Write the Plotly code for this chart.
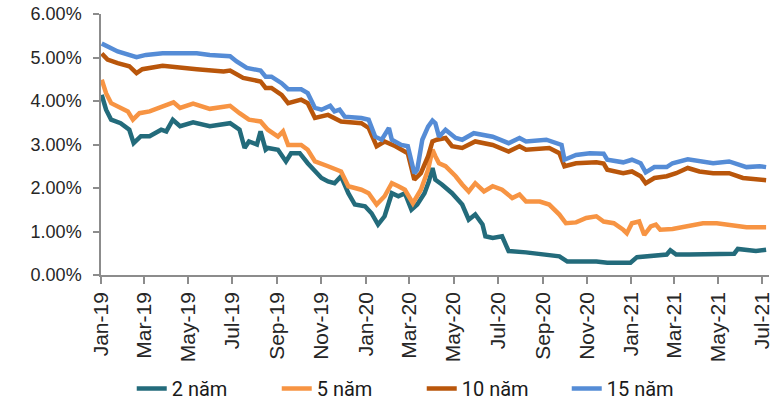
import plotly.graph_objects as go

# Government bond yields (%), by tenor
dates_2y = ["2019-01-02", "2019-01-08", "2019-01-15", "2019-01-28", "2019-02-09", "2019-02-15",
            "2019-02-25", "2019-03-09", "2019-03-25", "2019-04-01", "2019-04-10", "2019-04-20",
            "2019-05-08", "2019-05-31", "2019-06-28", "2019-07-11", "2019-07-18", "2019-07-24",
            "2019-08-04", "2019-08-09", "2019-08-16", "2019-08-19", "2019-09-02", "2019-09-13",
            "2019-09-20", "2019-10-02", "2019-10-13", "2019-11-01", "2019-11-10", "2019-11-19",
            "2019-11-28", "2019-12-08", "2019-12-17", "2019-12-31", "2020-01-09", "2020-01-18",
            "2020-01-27", "2020-02-06", "2020-02-15", "2020-02-24", "2020-03-04", "2020-03-12",
            "2020-03-22", "2020-03-28", "2020-04-02", "2020-04-06", "2020-04-15", "2020-04-29",
            "2020-05-13", "2020-05-22", "2020-05-31", "2020-06-10", "2020-06-14", "2020-06-24",
            "2020-07-07", "2020-07-16", "2020-08-09", "2020-09-01", "2020-09-24", "2020-10-05",
            "2020-10-26", "2020-11-14", "2020-11-29", "2020-12-31", "2021-01-09", "2021-02-06",
            "2021-02-19", "2021-02-24", "2021-03-04", "2021-03-22", "2021-04-29", "2021-05-23",
            "2021-05-28", "2021-06-13", "2021-06-22", "2021-07-06"]
yield_2y = [4.14, 3.80, 3.57, 3.49, 3.34, 3.03,
            3.19, 3.19, 3.34, 3.30, 3.57, 3.42,
            3.51, 3.42, 3.49, 3.34, 2.92, 3.07,
            3.00, 3.30, 2.88, 2.92, 2.88, 2.61,
            2.80, 2.80, 2.57, 2.23, 2.15, 2.11,
            2.27, 1.88, 1.62, 1.58, 1.42, 1.16,
            1.35, 1.88, 1.81, 1.88, 1.50, 1.62,
            1.88, 2.15, 2.46, 2.19, 2.08, 1.88,
            1.62, 1.27, 1.39, 1.16, 0.89, 0.85,
            0.89, 0.55, 0.52, 0.47, 0.43, 0.31,
            0.31, 0.31, 0.28, 0.28, 0.41, 0.44,
            0.47, 0.57, 0.47, 0.47, 0.49, 0.49,
            0.60, 0.57, 0.55, 0.58]

dates_5y = ["2019-01-02", "2019-01-08", "2019-01-15", "2019-01-28", "2019-02-07", "2019-02-14",
            "2019-02-23", "2019-03-09", "2019-03-27", "2019-04-11", "2019-04-20", "2019-05-08",
            "2019-05-31", "2019-06-28", "2019-07-11", "2019-07-24", "2019-08-09", "2019-08-16",
            "2019-08-19", "2019-09-02", "2019-09-09", "2019-09-16", "2019-10-04", "2019-10-13",
            "2019-10-23", "2019-11-10", "2019-11-28", "2019-12-08", "2019-12-26", "2020-01-05",
            "2020-01-16", "2020-01-27", "2020-02-06", "2020-02-15", "2020-02-24", "2020-03-06",
            "2020-03-17", "2020-03-27", "2020-04-02", "2020-04-06", "2020-04-11", "2020-04-20",
            "2020-05-04", "2020-05-13", "2020-05-22", "2020-05-31", "2020-06-12", "2020-06-24",
            "2020-07-07", "2020-07-21", "2020-07-31", "2020-08-09", "2020-08-28", "2020-09-10",
            "2020-09-24", "2020-10-03", "2020-10-17", "2020-10-31", "2020-11-14", "2020-11-24",
            "2020-12-08", "2020-12-21", "2020-12-26", "2021-01-02", "2021-01-12", "2021-01-19",
            "2021-01-28", "2021-02-04", "2021-02-10", "2021-02-27", "2021-03-22", "2021-04-10",
            "2021-04-29", "2021-05-16", "2021-06-09", "2021-07-06"]
yield_5y = [4.49, 4.18, 3.95, 3.84, 3.76, 3.57,
            3.72, 3.76, 3.88, 3.97, 3.84, 3.94,
            3.82, 3.89, 3.72, 3.57, 3.53, 3.38,
            3.34, 3.18, 3.30, 2.99, 2.99, 2.88,
            2.61, 2.50, 2.38, 2.04, 1.96, 1.88,
            1.62, 1.81, 2.11, 2.04, 1.96, 1.65,
            1.96, 2.42, 2.88, 2.73, 2.57, 2.50,
            2.27, 2.08, 1.92, 2.11, 1.92, 2.04,
            1.96, 1.77, 1.85, 1.69, 1.69, 1.62,
            1.39, 1.19, 1.21, 1.31, 1.35, 1.23,
            1.19, 1.04, 0.96, 1.19, 1.23, 0.92,
            1.12, 1.16, 1.04, 1.06, 1.14, 1.19,
            1.19, 1.16, 1.10, 1.10]

dates_10y = ["2019-01-02", "2019-01-10", "2019-01-24", "2019-02-09", "2019-02-19", "2019-02-27",
             "2019-03-27", "2019-04-20", "2019-05-13", "2019-06-19", "2019-06-28", "2019-07-16",
             "2019-08-09", "2019-08-16", "2019-08-24", "2019-09-07", "2019-09-16", "2019-10-04",
             "2019-10-13", "2019-10-23", "2019-11-10", "2019-11-28", "2019-12-26", "2020-01-05",
             "2020-01-16", "2020-01-27", "2020-02-11", "2020-02-28", "2020-03-08", "2020-03-17",
             "2020-03-27", "2020-04-02", "2020-04-08", "2020-04-20", "2020-04-29", "2020-05-13",
             "2020-05-31", "2020-06-24", "2020-07-16", "2020-07-31", "2020-08-09", "2020-09-10",
             "2020-09-24", "2020-10-01", "2020-10-17", "2020-11-14", "2020-11-24", "2020-11-29",
             "2020-12-21", "2021-01-02", "2021-01-14", "2021-01-21", "2021-02-02", "2021-02-19",
             "2021-03-04", "2021-03-20", "2021-04-05", "2021-04-24", "2021-05-16", "2021-06-04",
             "2021-06-22", "2021-07-06"]
yield_10y = [5.09, 4.95, 4.87, 4.80, 4.64, 4.73,
             4.81, 4.76, 4.73, 4.68, 4.70, 4.53,
             4.45, 4.30, 4.30, 4.14, 3.95, 4.03,
             3.95, 3.61, 3.68, 3.53, 3.49, 3.38,
             2.96, 3.07, 2.96, 2.80, 2.19, 2.34,
             2.73, 3.07, 3.11, 3.15, 2.96, 2.92,
             3.07, 2.99, 2.84, 2.96, 2.88, 2.92,
             2.80, 2.50, 2.57, 2.59, 2.56, 2.42,
             2.34, 2.38, 2.27, 2.11, 2.23, 2.27,
             2.34, 2.46, 2.38, 2.34, 2.34, 2.23,
             2.21, 2.18]

dates_15y = ["2019-01-02", "2019-01-10", "2019-01-24", "2019-02-19", "2019-03-04", "2019-03-27",
             "2019-04-20", "2019-05-13", "2019-05-31", "2019-06-28", "2019-07-07", "2019-07-21",
             "2019-08-09", "2019-08-16", "2019-08-24", "2019-09-07", "2019-09-16", "2019-10-04",
             "2019-10-13", "2019-10-23", "2019-11-01", "2019-11-13", "2019-11-19", "2019-11-26",
             "2019-12-03", "2019-12-26", "2020-01-05", "2020-01-14", "2020-01-23", "2020-02-02",
             "2020-02-06", "2020-02-19", "2020-02-28", "2020-03-08", "2020-03-12", "2020-03-19",
             "2020-03-27", "2020-04-02", "2020-04-06", "2020-04-11", "2020-04-20", "2020-05-04",
             "2020-05-13", "2020-05-29", "2020-06-24", "2020-07-16", "2020-07-31", "2020-08-09",
             "2020-09-06", "2020-09-27", "2020-10-01", "2020-10-17", "2020-11-05", "2020-11-24",
             "2020-11-29", "2020-12-21", "2021-01-02", "2021-01-14", "2021-01-21", "2021-02-02",
             "2021-02-19", "2021-02-27", "2021-03-20", "2021-04-05", "2021-04-24", "2021-05-16",
             "2021-06-09", "2021-06-27", "2021-07-06"]
yield_15y = [5.32, 5.26, 5.14, 5.01, 5.06, 5.10,
             5.10, 5.10, 5.06, 5.03, 4.91, 4.76,
             4.70, 4.56, 4.56, 4.41, 4.27, 4.27,
             4.18, 3.84, 3.80, 3.89, 3.76, 3.80,
             3.64, 3.61, 3.57, 3.18, 3.11, 3.38,
             3.11, 2.99, 2.96, 2.34, 2.42, 3.11,
             3.41, 3.55, 3.49, 3.18, 3.34, 3.15,
             3.11, 3.26, 3.18, 3.03, 3.15, 3.07,
             3.11, 2.99, 2.65, 2.76, 2.80, 2.79,
             2.65, 2.59, 2.65, 2.57, 2.36, 2.48,
             2.48, 2.57, 2.66, 2.61, 2.57, 2.61,
             2.48, 2.50, 2.48]

series_names = ["2 năm", "5 năm", "10 năm", "15 năm"]
series_colors = ["#236B7B", "#F79443", "#B9560B", "#558CD6"]

tick_dates = ["2019-01-01", "2019-03-01", "2019-05-01", "2019-07-01", "2019-09-01", "2019-11-01",
              "2020-01-01", "2020-03-01", "2020-05-01", "2020-07-01", "2020-09-01", "2020-11-01",
              "2021-01-01", "2021-03-01", "2021-05-01", "2021-07-01"]
tick_labels = ["Jan-19", "Mar-19", "May-19", "Jul-19", "Sep-19", "Nov-19",
               "Jan-20", "Mar-20", "May-20", "Jul-20", "Sep-20", "Nov-20",
               "Jan-21", "Mar-21", "May-21", "Jul-21"]
y_ticks = [0, 1, 2, 3, 4, 5, 6]
y_tick_labels = ["0.00%", "1.00%", "2.00%", "3.00%", "4.00%", "5.00%", "6.00%"]

series_x = [dates_2y, dates_5y, dates_10y, dates_15y]
series_y = [yield_2y, yield_5y, yield_10y, yield_15y]

fig = go.Figure()
for name, color, xs, ys in zip(series_names, series_colors, series_x, series_y):
    fig.add_trace(go.Scatter(
        x=xs, y=ys, name=name, mode="lines",
        line=dict(color=color, width=4.5, shape="linear"),
    ))

axis_color = "#8C8C8C"
label_family = "Liberation Sans, Arial, sans-serif"

fig.update_xaxes(
    type="date",
    range=["2019-01-01", "2021-07-10"],
    tickmode="array", tickvals=tick_dates, ticktext=tick_labels,
    tickangle=-90,
    tickfont=dict(family=label_family, size=21, color="#262626"),
    showline=True, linecolor=axis_color, linewidth=1.5,
    ticks="outside", ticklen=7, tickcolor=axis_color, tickwidth=1.5,
    showgrid=False, zeroline=False, automargin=False,
)
fig.update_yaxes(
    range=[0, 6],
    tickmode="array", tickvals=y_ticks, ticktext=y_tick_labels,
    tickfont=dict(family=label_family, size=18, color="#262626"),
    showline=True, linecolor=axis_color, linewidth=1.5,
    ticks="outside", ticklen=6, tickcolor=axis_color, tickwidth=1.5,
    ticklabelstandoff=8,
    showgrid=False, zeroline=False, automargin=False,
)

fig.update_layout(
    width=781, height=408,
    margin=dict(l=101, r=12, t=14, b=133),
    paper_bgcolor="white", plot_bgcolor="white",
    showlegend=True,
    legend=dict(
        orientation="h",
        xref="container", x=0.54, xanchor="center",
        yref="container", y=-0.012, yanchor="bottom",
        font=dict(family="Roboto, sans-serif", size=20, color="#1a1a1a"),
        entrywidth=100, bgcolor="rgba(0,0,0,0)",
    ),
)

fig.write_html("out.html")
